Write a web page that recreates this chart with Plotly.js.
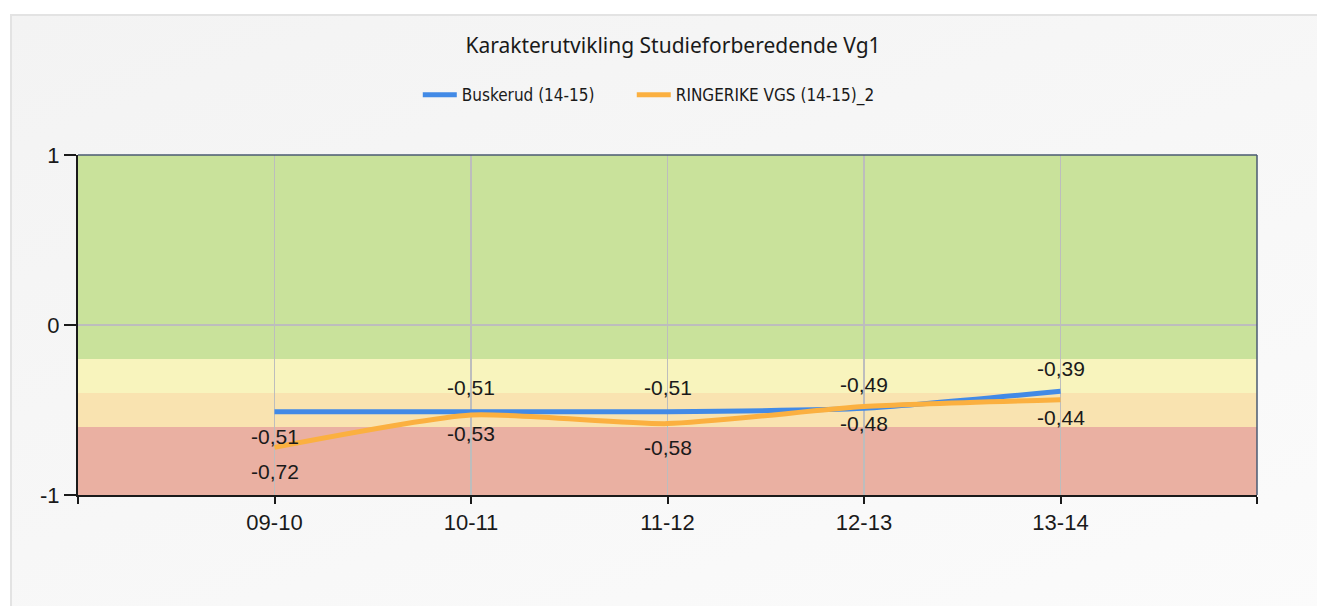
<!DOCTYPE html>
<html>
<head>
<meta charset="utf-8">
<script src="https://cdn.plot.ly/plotly-3.0.1.min.js"></script>
<style>
  html, body { margin: 0; padding: 0; background: #ffffff; width: 1317px; height: 606px; overflow: hidden; }
  #frame { position: absolute; left: 10px; top: 14px; width: 1320px; height: 600px;
           border-left: 2px solid #e3e3e3; border-top: 2px solid #e3e3e3;
           background: linear-gradient(160deg, #f3f3f3 0%, #f7f7f7 50%, #fbfbfb 100%); }
  #chart { position: absolute; left: 0; top: 0; width: 1317px; height: 606px; }
</style>
</head>
<body>
<div id="frame"></div>
<div id="chart"></div>
<script>
// ---- data ----
const categories = ["09-10", "10-11", "11-12", "12-13", "13-14"];
const buskerud = [-0.51, -0.51, -0.51, -0.49, -0.39];
const ringerike = [-0.72, -0.53, -0.58, -0.48, -0.44];
const seriesNames = ["Buskerud (14-15)", "RINGERIKE VGS (14-15)_2"];
const yTicks = [1, 0, -1];
// band limits (value ranges of coloured zones)
const bandLimits = [[1, -0.2], [-0.2, -0.4], [-0.4, -0.6], [-0.6, -1]];

// ---- style ----
const bandColors = ["#c9e29b", "#f8f4bd", "#f9e3b0", "#eab0a2"];
const blue = "#428ae6";
const orange = "#fbb040";
const labelFont = {family: "Liberation Sans, Arial, sans-serif", size: 21, color: "#1a1a1a"};
const tickFont = {family: "Liberation Sans, Arial, sans-serif", size: 22, color: "#1a1a1a"};
const legendFont = {family: "DejaVu Sans Condensed, Liberation Sans Narrow, sans-serif", size: 17, color: "#1a1a1a"};
// vertical pixel offsets for data labels (styling only)
const buskerudShift = [25, -24, -24, -24, -23];
const ringerikeShift = [24, 18, 24, 17, 18];

const xIdx = categories.map((c, i) => i);

const traces = [
  {x: xIdx, y: buskerud, name: seriesNames[0], mode: "lines", type: "scatter", legend: "legend",
   line: {color: blue, width: 5, shape: "spline", smoothing: 0.6}},
  {x: xIdx, y: ringerike, name: seriesNames[1], mode: "lines", type: "scatter", legend: "legend2",
   line: {color: orange, width: 5, shape: "spline", smoothing: 0.6}}
];

const annotations = [];
buskerud.forEach((v, i) => annotations.push({
  x: xIdx[i], y: v, xref: "x", yref: "y", text: v.toFixed(2).replace(".", ","),
  showarrow: false, yshift: -buskerudShift[i], font: labelFont
}));
ringerike.forEach((v, i) => annotations.push({
  x: xIdx[i], y: v, xref: "x", yref: "y", text: v.toFixed(2).replace(".", ","),
  showarrow: false, yshift: -ringerikeShift[i], font: labelFont
}));

const shapes = bandLimits.map((b, i) => ({
  type: "rect", xref: "paper", yref: "y", x0: 0, x1: 1, y0: b[1], y1: b[0],
  fillcolor: bandColors[i], line: {width: 0}, layer: "below"
}));
// top and right plot border
shapes.push({type: "line", xref: "paper", yref: "paper", x0: 0, x1: 1, y0: 1, y1: 1,
  line: {color: "#4a5a72", width: 1.5}});
shapes.push({type: "line", xref: "paper", yref: "paper", x0: 1, x1: 1, y0: 0, y1: 1,
  line: {color: "#4a5a72", width: 1.5}});

const tickvals = [-1].concat(xIdx, [categories.length]);
const ticktext = [""].concat(categories, [""]);

const legendBase = {orientation: "h", xanchor: "left", y: 1.176, yanchor: "middle",
  font: legendFont, bgcolor: "rgba(0,0,0,0)", itemwidth: 34};

const layout = {
  width: 1317, height: 606,
  paper_bgcolor: "rgba(0,0,0,0)",
  plot_bgcolor: "rgba(0,0,0,0)",
  margin: {l: 78, r: 60, t: 155, b: 111, pad: 0},
  title: {text: "Karakterutvikling Studieforberedende Vg1",
          font: {family: "Noto Sans, Open Sans, sans-serif", size: 21, color: "#1a1a1a"},
          x: 0.511, xanchor: "center", y: 0.925, yanchor: "middle"},
  showlegend: true,
  legend: Object.assign({}, legendBase, {x: 0.2882}),
  legend2: Object.assign({}, legendBase, {x: 0.4697}),
  xaxis: {type: "linear", range: [-1, categories.length], tickvals: tickvals, ticktext: ticktext,
          showgrid: true, gridcolor: "#bdbdbd", gridwidth: 1.5,
          showline: true, linecolor: "#1a1a1a", linewidth: 2,
          ticks: "outside", ticklen: 7, tickwidth: 2, tickcolor: "#1a1a1a",
          zeroline: false, fixedrange: true, tickfont: tickFont},
  yaxis: {range: [-1, 1], tickvals: yTicks, ticktext: yTicks.map(String),
          showgrid: true, gridcolor: "#bdbdbd", gridwidth: 1.5,
          showline: true, linecolor: "#1a1a1a", linewidth: 2,
          ticks: "outside", ticklen: 12, tickwidth: 2, tickcolor: "#1a1a1a",
          zeroline: false, fixedrange: true, tickfont: tickFont},
  shapes: shapes,
  annotations: annotations
};

Plotly.newPlot("chart", traces, layout, {displayModeBar: false, staticPlot: true});
</script>
</body>
</html>
